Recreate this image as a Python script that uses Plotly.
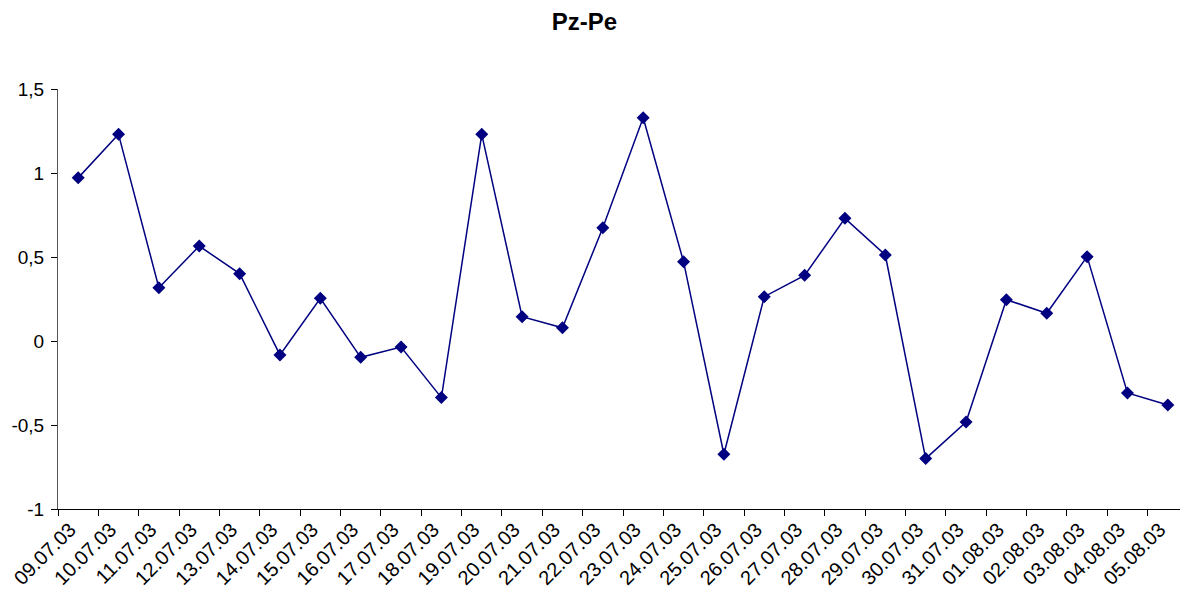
import plotly.graph_objects as go

categories = ["09.07.03", "10.07.03", "11.07.03", "12.07.03", "13.07.03", "14.07.03",
              "15.07.03", "16.07.03", "17.07.03", "18.07.03", "19.07.03", "20.07.03",
              "21.07.03", "22.07.03", "23.07.03", "24.07.03", "25.07.03", "26.07.03",
              "27.07.03", "28.07.03", "29.07.03", "30.07.03", "31.07.03", "01.08.03",
              "02.08.03", "03.08.03", "04.08.03", "05.08.03"]
values = [0.971, 1.230, 0.317, 0.565, 0.401, -0.083, 0.254, -0.097, -0.036, -0.337,
          1.230, 0.145, 0.079, 0.674, 1.329, 0.472, -0.674, 0.264, 0.391, 0.730,
          0.512, -0.700, -0.482, 0.246, 0.165, 0.502, -0.309, -0.381]
y_ticks = [-1, -0.5, 0, 0.5, 1, 1.5]
y_labels = ["-1", "-0,5", "0", "0,5", "1", "1,5"]

idx = list(range(len(categories)))
FONT = "Liberation Sans, Arial, sans-serif"

fig = go.Figure()
fig.add_trace(go.Scatter(
    x=idx, y=values, mode="lines+markers",
    line=dict(color="#000080", width=1.5),
    marker=dict(symbol="diamond", size=10, color="#000080"),
    showlegend=False,
))

# the page body adds an 8px offset; margins compensate for it
fig.update_layout(
    width=1188, height=594,
    margin=dict(l=50, r=8, t=81, b=93),
    paper_bgcolor="white", plot_bgcolor="white",
    separators=", ",
    font=dict(family=FONT, size=19, color="black"),
    title=dict(text="<b>Pz-Pe</b>", x=576.5 / 1188, xanchor="center",
               y=1 - 14 / 594, yanchor="middle",
               font=dict(family=FONT, size=24, color="black")),
)
fig.update_xaxes(
    range=[-0.5, len(categories) - 0.5], automargin=False,
    tickmode="array", tickvals=[i - 0.2 for i in idx], ticktext=categories,
    tickangle=-45, ticks="", showgrid=False, zeroline=False,
    showline=True, linecolor="black", linewidth=1,
    tickfont=dict(family=FONT, size=20, color="black"),
    minor=dict(tickmode="array", tickvals=[i - 0.5 for i in range(len(categories) + 1)],
               ticks="outside", ticklen=6, tickcolor="black", tickwidth=1, showgrid=False),
)
fig.update_yaxes(
    range=[-1, 1.5], automargin=False,
    tickmode="array", tickvals=y_ticks, ticktext=y_labels,
    ticks="outside", ticklen=6, tickcolor="black", tickwidth=1,
    ticklabelstandoff=3,
    showgrid=False, zeroline=False,
    showline=True, linecolor="#555555", linewidth=1,
    tickfont=dict(family=FONT, size=19, color="black"),
)

fig.write_html("out.html")
